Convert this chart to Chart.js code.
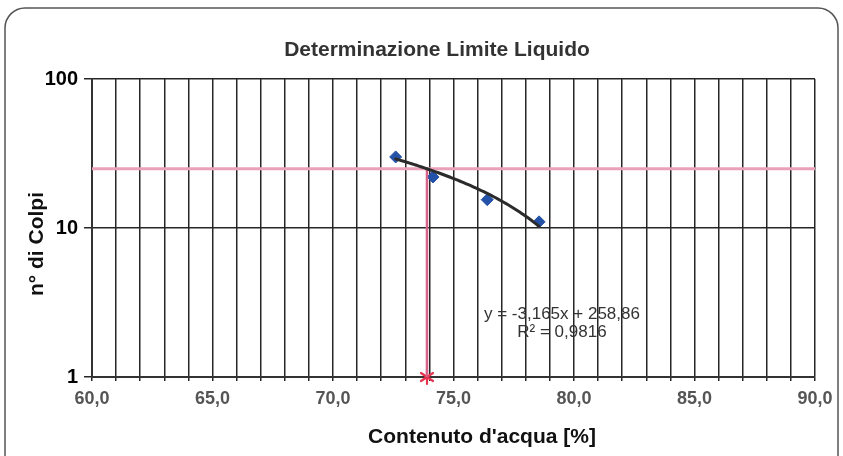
<!DOCTYPE html>
<html>
<head>
<meta charset="utf-8">
<script src="https://cdn.jsdelivr.net/npm/chart.js@4"></script>
<style>
  body { margin: 0; background: #fff; }
  #wrap { width: 843px; height: 456px; }
</style>
</head>
<body>
<div id="wrap"><canvas id="llChart" width="843" height="456"></canvas></div>
<script>
// water content [%] and blow counts
const waterContent = [72.6, 74.15, 76.4, 78.55];
const blows = [30, 22, 15.5, 11];
const yTicks = [1, 10, 100];
// linear trendline shown on the chart: y = -3,165x + 258,86
const trendSlope = -3.165;
const trendIntercept = 258.86;
const liquidLimit = 73.9;
const refBlows = 25;

const FONT = '"Liberation Sans", Arial, sans-serif';

// asterisk marker (X with a vertical stroke), like the spreadsheet one
const star = document.createElement('canvas');
star.width = 18; star.height = 18;
(function () {
  const c = star.getContext('2d');
  c.strokeStyle = '#e8334f';
  c.lineWidth = 2.2;
  c.lineCap = 'round';
  c.beginPath();
  c.moveTo(9, 2); c.lineTo(9, 16);
  c.moveTo(3, 5); c.lineTo(15, 13);
  c.moveTo(15, 5); c.lineTo(3, 13);
  c.stroke();
})();

const decorPlugin = {
  id: 'decor',
  beforeDraw(chart) {
    const ctx = chart.ctx;
    ctx.save();
    ctx.fillStyle = '#fff';
    ctx.fillRect(0, 0, chart.width, chart.height);
    ctx.strokeStyle = '#555';
    ctx.lineWidth = 1.5;
    ctx.beginPath();
    ctx.roundRect(5, 8, 833, 470, 20);
    ctx.stroke();
    ctx.restore();
  },
  afterDatasetsDraw(chart) {
    const ctx = chart.ctx;
    const xs = chart.scales.x, ys = chart.scales.y;
    const area = chart.chartArea;
    ctx.save();
    // reference lines at 25 blows
    ctx.strokeStyle = '#eaa0ba';
    ctx.lineWidth = 3;
    ctx.beginPath();
    ctx.moveTo(area.left, ys.getPixelForValue(refBlows));
    ctx.lineTo(area.right, ys.getPixelForValue(refBlows));
    ctx.stroke();
    ctx.strokeStyle = '#d8638a';
    ctx.lineWidth = 2.5;
    ctx.beginPath();
    ctx.moveTo(xs.getPixelForValue(liquidLimit), ys.getPixelForValue(refBlows));
    ctx.lineTo(xs.getPixelForValue(liquidLimit), ys.getPixelForValue(1));
    ctx.stroke();
    // trendline over the data range
    const x0 = Math.min(...waterContent), x1 = Math.max(...waterContent);
    const p0 = xs.getPixelForValue(x0), p1 = xs.getPixelForValue(x1);
    ctx.strokeStyle = '#2b2b2b';
    ctx.lineWidth = 3;
    ctx.lineCap = 'round';
    ctx.beginPath();
    for (let px = p0; px <= p1; px += 2) {
      const v = xs.getValueForPixel(px);
      const py = ys.getPixelForValue(trendSlope * v + trendIntercept);
      if (px === p0) ctx.moveTo(px, py); else ctx.lineTo(px, py);
    }
    ctx.lineTo(p1, ys.getPixelForValue(trendSlope * x1 + trendIntercept));
    ctx.stroke();
    ctx.restore();
  },
  afterDraw(chart) {
    const ctx = chart.ctx;
    const xs = chart.scales.x, ys = chart.scales.y;
    ctx.save();
    ctx.textAlign = 'center';
    ctx.textBaseline = 'middle';
    ctx.fillStyle = '#333';
    ctx.font = 'bold 21px ' + FONT;
    ctx.fillText('Determinazione Limite Liquido', 437, 50);
    ctx.fillStyle = '#111';
    ctx.font = 'bold 21px ' + FONT;
    ctx.fillText("Contenuto d'acqua [%]", 482, 437);
    ctx.save();
    ctx.translate(37, 244);
    ctx.rotate(-Math.PI / 2);
    ctx.fillText('n° di Colpi', 0, 0);
    ctx.restore();
    ctx.fillStyle = '#333';
    ctx.font = '17px ' + FONT;
    const ex = xs.getPixelForValue(79.5);
    ctx.fillText('y = -3,165x + 258,86', ex, ys.getPixelForValue(2.62));
    ctx.fillText('R² = 0,9816', ex, ys.getPixelForValue(1.98));
    ctx.restore();
  }
};

new Chart(document.getElementById('llChart'), {
  type: 'scatter',
  data: {
    datasets: [
      {
        label: 'Prove',
        data: waterContent.map((x, i) => ({ x: x, y: blows[i] })),
        pointStyle: 'rectRot',
        radius: 6,
        backgroundColor: '#2452a8',
        borderColor: '#2452a8'
      },
      {
        label: 'Limite liquido',
        data: [{ x: liquidLimit, y: 1 }],
        pointStyle: star,
        clip: false
      }
    ]
  },
  options: {
    responsive: false,
    animation: false,
    layout: { padding: { top: 79, right: 28, left: 0, bottom: 0 } },
    plugins: {
      legend: { display: false },
      tooltip: { enabled: false }
    },
    scales: {
      x: {
        type: 'linear',
        min: 60,
        max: 90,
        afterFit(s) { s.height = 79; },
        grid: { color: '#262626', lineWidth: 1.5, tickLength: 4 },
        border: { color: '#333', width: 2 },
        ticks: {
          stepSize: 1,
          autoSkip: false,
          maxRotation: 0,
          padding: 7,
          color: '#555',
          font: { family: FONT, size: 18, weight: 'bold' },
          callback: v => (v % 5 === 0 ? v.toFixed(1).replace('.', ',') : '')
        }
      },
      y: {
        type: 'logarithmic',
        min: 1,
        max: 100,
        afterFit(s) { s.width = 92; },
        afterBuildTicks(s) { s.ticks = yTicks.map(v => ({ value: v })); },
        grid: { color: '#262626', lineWidth: 1.5, tickLength: 8 },
        border: { color: '#333', width: 2 },
        ticks: {
          padding: 6,
          color: '#000',
          font: { family: FONT, size: 20, weight: 'bold' },
          callback: v => String(v)
        }
      }
    }
  },
  plugins: [decorPlugin]
});
</script>
</body>
</html>
